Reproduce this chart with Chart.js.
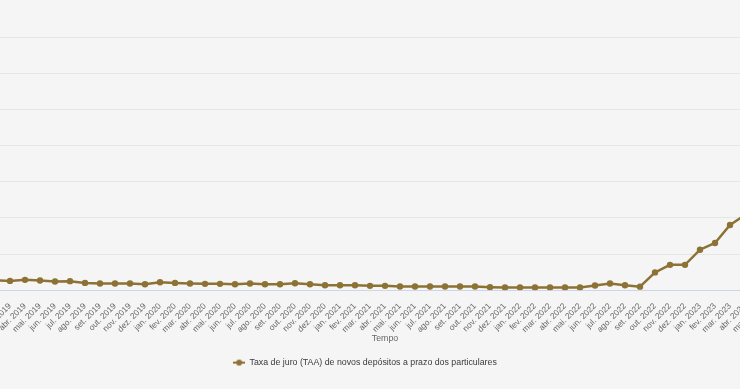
<!DOCTYPE html>
<html>
<head>
<meta charset="utf-8">
<script src="https://cdn.jsdelivr.net/npm/chart.js@4.4.1/dist/chart.umd.min.js"></script>
<style>
  html, body { margin: 0; padding: 0; background: #f5f5f5; }
  #wrap { position: relative; width: 740px; height: 389px; overflow: hidden; background: #f5f5f5; }
  #chart { position: absolute; left: -55px; top: -45px; }
</style>
</head>
<body>
<div id="wrap"><canvas id="chart" width="840" height="422"></canvas></div>
<script>
const months = [
  "fev. 2019", "mar. 2019", "abr. 2019", "mai. 2019", "jun. 2019", "jul. 2019",
  "ago. 2019", "set. 2019", "out. 2019", "nov. 2019", "dez. 2019",
  "jan. 2020", "fev. 2020", "mar. 2020", "abr. 2020", "mai. 2020", "jun. 2020",
  "jul. 2020", "ago. 2020", "set. 2020", "out. 2020", "nov. 2020", "dez. 2020",
  "jan. 2021", "fev. 2021", "mar. 2021", "abr. 2021", "mai. 2021", "jun. 2021",
  "jul. 2021", "ago. 2021", "set. 2021", "out. 2021", "nov. 2021", "dez. 2021",
  "jan. 2022", "fev. 2022", "mar. 2022", "abr. 2022", "mai. 2022", "jun. 2022",
  "jul. 2022", "ago. 2022", "set. 2022", "out. 2022", "nov. 2022", "dez. 2022",
  "jan. 2023", "fev. 2023", "mar. 2023", "abr. 2023", "mai. 2023", "jun. 2023"
];

// taxa (%) por mês, fev. 2019 -> abr. 2023
const rates = [
  0.138, 0.129, 0.143, 0.135, 0.121, 0.125, 0.101, 0.093, 0.093, 0.093, 0.083,
  0.111, 0.101, 0.093, 0.088, 0.088, 0.083, 0.093, 0.083, 0.083, 0.097, 0.083, 0.069,
  0.069, 0.069, 0.060, 0.060, 0.051, 0.051, 0.051, 0.051, 0.051, 0.051, 0.042, 0.037,
  0.037, 0.037, 0.037, 0.037, 0.037, 0.065, 0.093, 0.069, 0.049, 0.246, 0.351, 0.351,
  0.560, 0.653, 0.903, 1.040
];

const yTicks = [0, 0.5, 1, 1.5, 2, 2.5, 3, 3.5];

const seriesName = "Taxa de juro (TAA) de novos depósitos a prazo dos particulares";
const LINE_COLOR = "#8c7234";
const FONT = "'Liberation Sans', Arial, sans-serif";

// legend marker: short line with a dot, highcharts-like
const marker = document.createElement("canvas");
marker.width = 12;
marker.height = 8;
const mctx = marker.getContext("2d");
mctx.strokeStyle = LINE_COLOR;
mctx.lineWidth = 2;
mctx.beginPath();
mctx.moveTo(0, 4);
mctx.lineTo(12, 4);
mctx.stroke();
mctx.fillStyle = LINE_COLOR;
mctx.beginPath();
mctx.arc(6, 4, 3, 0, Math.PI * 2);
mctx.fill();

new Chart(document.getElementById("chart"), {
  type: "line",
  data: {
    labels: months,
    datasets: [
      {
        label: seriesName,
        data: rates,
        borderColor: LINE_COLOR,
        backgroundColor: LINE_COLOR,
        borderWidth: 2.5,
        pointRadius: 3.2,
        pointBorderWidth: 0,
        pointBackgroundColor: LINE_COLOR,
        tension: 0,
      },
    ],
  },
  options: {
    responsive: false,
    animation: false,
    layout: {
      padding: { top: 10, right: 0, bottom: 0, left: 0 },
    },
    scales: {
      x: {
        grid: { display: false },
        border: { color: "#ccd6eb", width: 1 },
        ticks: {
          autoSkip: false,
          minRotation: 45,
          maxRotation: 45,
          color: "#666666",
          padding: 3,
          font: { size: 8.4, family: FONT },
        },
        title: {
          display: true,
          text: "Tempo",
          color: "#666666",
          padding: { top: 4, bottom: 4 },
          font: { size: 8.8, family: FONT },
        },
        afterFit(scale) {
          scale.height = 58;
          scale.paddingLeft = 0;
          scale.paddingRight = 10;
        },
      },
      y: {
        min: 0,
        max: 4.5,
        afterBuildTicks(scale) {
          scale.ticks = yTicks.map((v) => ({ value: v }));
        },
        grid: {
          color: (ctx) => (ctx.tick && ctx.tick.value === 0 ? "rgba(0,0,0,0)" : "#e6e6e6"),
          lineWidth: 1,
        },
        border: { display: false },
        ticks: {
          color: "#666666",
          font: { size: 8.8, family: FONT },
          callback: (v) => v.toFixed(1).replace(".", ",") + " %",
        },
        afterFit(scale) {
          scale.width = 50;
          scale.paddingTop = 0;
          scale.paddingBottom = 0;
        },
      },
    },
    plugins: {
      legend: {
        position: "bottom",
        labels: {
          usePointStyle: true,
          pointStyle: marker,
          pointStyleWidth: 12,
          padding: 10,
          color: "#3a3a3a",
          font: { size: 8.8, family: FONT },
        },
      },
      tooltip: { enabled: false },
    },
  },
});
</script>
</body>
</html>
